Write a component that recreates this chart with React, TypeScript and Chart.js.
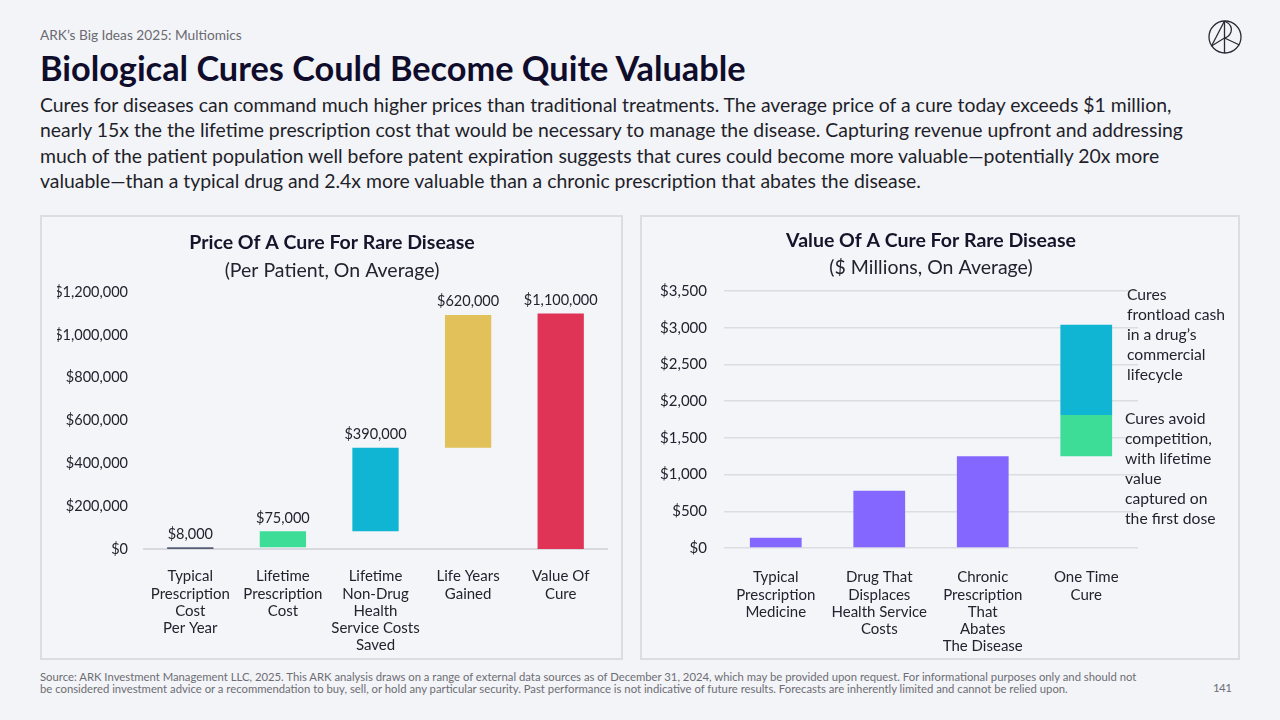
import React, { useEffect, useRef } from "react";
import { Chart, registerables } from "chart.js";

Chart.register(...registerables);

// ---------- Data ----------
const leftCategories = [
  ["Typical", "Prescription", "Cost", "Per Year"],
  ["Lifetime", "Prescription", "Cost"],
  ["Lifetime", "Non-Drug", "Health", "Service Costs", "Saved"],
  ["Life Years", "Gained"],
  ["Value Of", "Cure"],
];
const leftStarts = [0, 8000, 83000, 473000, 0];
const leftEnds = [8000, 83000, 473000, 1093000, 1100000];
const leftValueLabels = ["$8,000", "$75,000", "$390,000", "$620,000", "$1,100,000"];
const leftMax = 1200000;
const leftStep = 200000;

const rightCategories = [
  ["Typical", "Prescription", "Medicine"],
  ["Drug That", "Displaces", "Health Service", "Costs"],
  ["Chronic", "Prescription", "That", "Abates", "The Disease"],
  ["One Time", "Cure"],
];
const rightBaseValues = [140, 780, 1250, null];
const rightCompetitionStart = [null, null, null, 1250];
const rightCompetitionEnd = [null, null, null, 1810];
const rightFrontloadStart = [null, null, null, 1810];
const rightFrontloadEnd = [null, null, null, 3040];
const rightMax = 3500;
const rightStep = 500;

// ---------- Styles ----------
const FONT = "Lato, 'Open Sans', sans-serif";
const TEXT = "#23232f";
const leftPalette = ["#585d76", "#3ddc97", "#10b5d3", "#e2c15a", "#e03457"];
const PURPLE = "#8467ff";
const GREEN = "#3ddc97";
const CYAN = "#10b5d3";

const money = (v: number) => "$" + Number(v).toLocaleString("en-US");

const valueLabelPlugin = {
  id: "valueLabels",
  afterDatasetsDraw(chart: any, _args: any, opts: any) {
    const labels = opts && opts.labels;
    if (!labels) return;
    const ctx = chart.ctx;
    const meta = chart.getDatasetMeta(0);
    ctx.save();
    ctx.font = `14.5px ${FONT}`;
    ctx.fillStyle = TEXT;
    ctx.textAlign = "center";
    ctx.textBaseline = "bottom";
    meta.data.forEach((el: any, i: number) => {
      const top = Math.min(el.y, el.base);
      ctx.fillText(labels[i], el.x, top - 6);
    });
    ctx.restore();
  },
};

function LeftChart() {
  const ref = useRef<HTMLCanvasElement>(null);
  useEffect(() => {
    const chart = new Chart(ref.current!, {
      type: "bar",
      data: {
        labels: leftCategories,
        datasets: [
          {
            data: leftStarts.map((s, i) => [s, leftEnds[i]]),
            backgroundColor: leftPalette,
            borderWidth: 0,
            barPercentage: 1,
            categoryPercentage: 0.5,
          },
        ],
      },
      plugins: [valueLabelPlugin],
      options: {
        animation: false,
        responsive: false,
        layout: { padding: { left: 15, right: 14, top: 0, bottom: 0 } },
        plugins: {
          legend: { display: false },
          tooltip: { enabled: false },
          title: {
            display: true,
            text: "Price Of A Cure For Rare Disease",
            color: "#15142a",
            font: { family: FONT, size: 19.5, weight: "bold" },
            padding: { top: 14.3, bottom: 0 },
          },
          subtitle: {
            display: true,
            text: "(Per Patient, On Average)",
            color: TEXT,
            font: { family: FONT, size: 19.5 },
            padding: { top: 4.6, bottom: 9.3 },
          },
          valueLabels: { labels: leftValueLabels },
        } as any,
        scales: {
          x: {
            grid: { display: false, drawTicks: false },
            border: { display: true, color: "#d8d9de", width: 2 },
            ticks: {
              color: TEXT,
              font: { family: FONT, size: 15, lineHeight: 1.15 },
              padding: 19,
              maxRotation: 0,
              autoSkip: false,
            },
            afterFit(s: any) {
              s.height = 109;
            },
          },
          y: {
            min: 0,
            max: leftMax,
            grid: { display: false, drawTicks: false },
            border: { display: false },
            ticks: {
              stepSize: leftStep,
              color: TEXT,
              font: { family: FONT, size: 14.5 },
              padding: 16,
              callback: (v: any) => money(v),
            },
            afterFit(s: any) {
              s.width = 87;
            },
          },
        },
      },
    });
    return () => chart.destroy();
  }, []);
  return (
    <canvas
      ref={ref}
      width={579}
      height={441}
      style={{ position: "absolute", left: 42, top: 217, width: 579, height: 441 }}
    />
  );
}

function RightChart() {
  const ref = useRef<HTMLCanvasElement>(null);
  useEffect(() => {
    const common = { borderWidth: 0, barPercentage: 1, categoryPercentage: 0.5, grouped: false };
    const chart = new Chart(ref.current!, {
      type: "bar",
      data: {
        labels: rightCategories,
        datasets: [
          { ...common, data: rightBaseValues, backgroundColor: PURPLE } as any,
          {
            ...common,
            data: rightCompetitionStart.map((s, i) => (s === null ? null : [s, rightCompetitionEnd[i]])),
            backgroundColor: GREEN,
          } as any,
          {
            ...common,
            data: rightFrontloadStart.map((s, i) => (s === null ? null : [s, rightFrontloadEnd[i]])),
            backgroundColor: CYAN,
          } as any,
        ],
      },
      options: {
        animation: false,
        responsive: false,
        layout: { padding: { left: 0, right: 100, top: 0, bottom: 0 } },
        plugins: {
          legend: { display: false },
          tooltip: { enabled: false },
          title: {
            display: true,
            fullSize: false,
            text: "Value Of A Cure For Rare Disease",
            color: "#15142a",
            font: { family: FONT, size: 19.5, weight: "bold" },
            padding: { top: 12.3, bottom: 0 },
          },
          subtitle: {
            display: true,
            fullSize: false,
            text: "($ Millions, On Average)",
            color: TEXT,
            font: { family: FONT, size: 19.5 },
            padding: { top: 3.6, bottom: 11.3 },
          },
        },
        scales: {
          x: {
            grid: { display: false, drawTicks: false },
            border: { display: false },
            ticks: {
              color: TEXT,
              font: { family: FONT, size: 15, lineHeight: 1.15 },
              padding: 21,
              maxRotation: 0,
              autoSkip: false,
            },
            afterFit(s: any) {
              s.height = 110;
            },
          },
          y: {
            min: 0,
            max: rightMax,
            grid: { display: true, drawTicks: false, color: "#dcdde2", lineWidth: 1.5 },
            border: { display: false },
            ticks: {
              stepSize: rightStep,
              color: TEXT,
              font: { family: FONT, size: 15 },
              padding: 17,
              callback: (v: any) => money(v),
            },
            afterFit(s: any) {
              s.width = 82;
            },
          },
        },
      },
    });
    return () => chart.destroy();
  }, []);
  return (
    <canvas
      ref={ref}
      width={596}
      height={441}
      style={{ position: "absolute", left: 642, top: 217, width: 596, height: 441 }}
    />
  );
}

const panelStyle = (left: number, width: number): React.CSSProperties => ({
  position: "absolute",
  left,
  top: 215,
  width,
  height: 445,
  border: "2px solid #dcdde1",
  boxSizing: "border-box",
  background: "#f4f5f8",
});

const annoStyle = (left: number, top: number): React.CSSProperties => ({
  position: "absolute",
  left,
  top,
  fontSize: 15.7,
  lineHeight: "20px",
  color: TEXT,
  whiteSpace: "nowrap",
});

export default function App() {
  return (
    <div
      style={{
        position: "fixed",
        left: 0,
        top: 0,
        width: 1280,
        height: 720,
        background: "#f3f4f7",
        fontFamily: FONT,
        overflow: "hidden",
      }}
    >
      <div style={{ position: "absolute", left: 40, top: 27, fontSize: 13.7, lineHeight: "16px", color: "#6a6a72", whiteSpace: "nowrap" }}>
        ARK’s Big Ideas 2025: Multiomics
      </div>
      <div
        style={{
          position: "absolute",
          left: 40,
          top: 48,
          fontSize: 34.3,
          lineHeight: "40px",
          fontWeight: 700,
          color: "#100d2c",
          whiteSpace: "nowrap",
        }}
      >
        Biological Cures Could Become Quite Valuable
      </div>
      <div
        style={{
          position: "absolute",
          left: 40,
          top: 92,
          fontSize: 19.4,
          lineHeight: "25.4px",
          color: "#1f1f2b",
          whiteSpace: "nowrap",
        }}
      >
        Cures for diseases can command much higher prices than traditional treatments. The average price of a cure today exceeds $1 million,
        <br />
        nearly 15x the the lifetime prescription cost that would be necessary to manage the disease. Capturing revenue upfront and addressing
        <br />
        much of the patient population well before patent expiration suggests that cures could become more valuable—potentially 20x more
        <br />
        valuable—than a typical drug and 2.4x more valuable than a chronic prescription that abates the disease.
      </div>

      <div style={panelStyle(40, 583)} />
      <div style={panelStyle(640, 600)} />
      <LeftChart />
      <RightChart />

      <div style={annoStyle(1127, 284)}>
        Cures
        <br />
        frontload cash
        <br />
        in a drug’s
        <br />
        commercial
        <br />
        lifecycle
      </div>
      <div style={annoStyle(1125, 408)}>
        Cures avoid
        <br />
        competition,
        <br />
        with lifetime
        <br />
        value
        <br />
        captured on
        <br />
        the first dose
      </div>

      <div
        style={{
          position: "absolute",
          left: 40,
          top: 671,
          fontSize: 11.3,
          lineHeight: "12px",
          color: "#6d6d75",
          whiteSpace: "nowrap",
        }}
      >
        Source: ARK Investment Management LLC, 2025. This ARK analysis draws on a range of external data sources as of December 31, 2024, which may be provided upon request. For informational purposes only and should not
        <br />
        be considered investment advice or a recommendation to buy, sell, or hold any particular security. Past performance is not indicative of future results. Forecasts are inherently limited and cannot be relied upon.
      </div>
      <div style={{ position: "absolute", left: 1213, top: 681, fontSize: 11.5, lineHeight: "14px", color: "#6d6d75", letterSpacing: -0.6 }}>
        141
      </div>

      <svg
        width={40}
        height={40}
        viewBox="0 0 40 40"
        style={{ position: "absolute", left: 1205, top: 17 }}
        fill="none"
        stroke="#2a2a35"
        strokeWidth={1.3}
      >
        <circle cx={20} cy={20} r={16} />
        <line x1={19.5} y1={4} x2={19.5} y2={36} />
        <line x1={19.5} y1={4} x2={6.5} y2={29} />
        <path d="M19.5 4 Q28 8 26 15 Q24 20 19.5 21" />
        <line x1={19.5} y1={21} x2={34.5} y2={28} />
        <line x1={6.5} y1={29} x2={19.5} y2={21} />
      </svg>
    </div>
  );
}
